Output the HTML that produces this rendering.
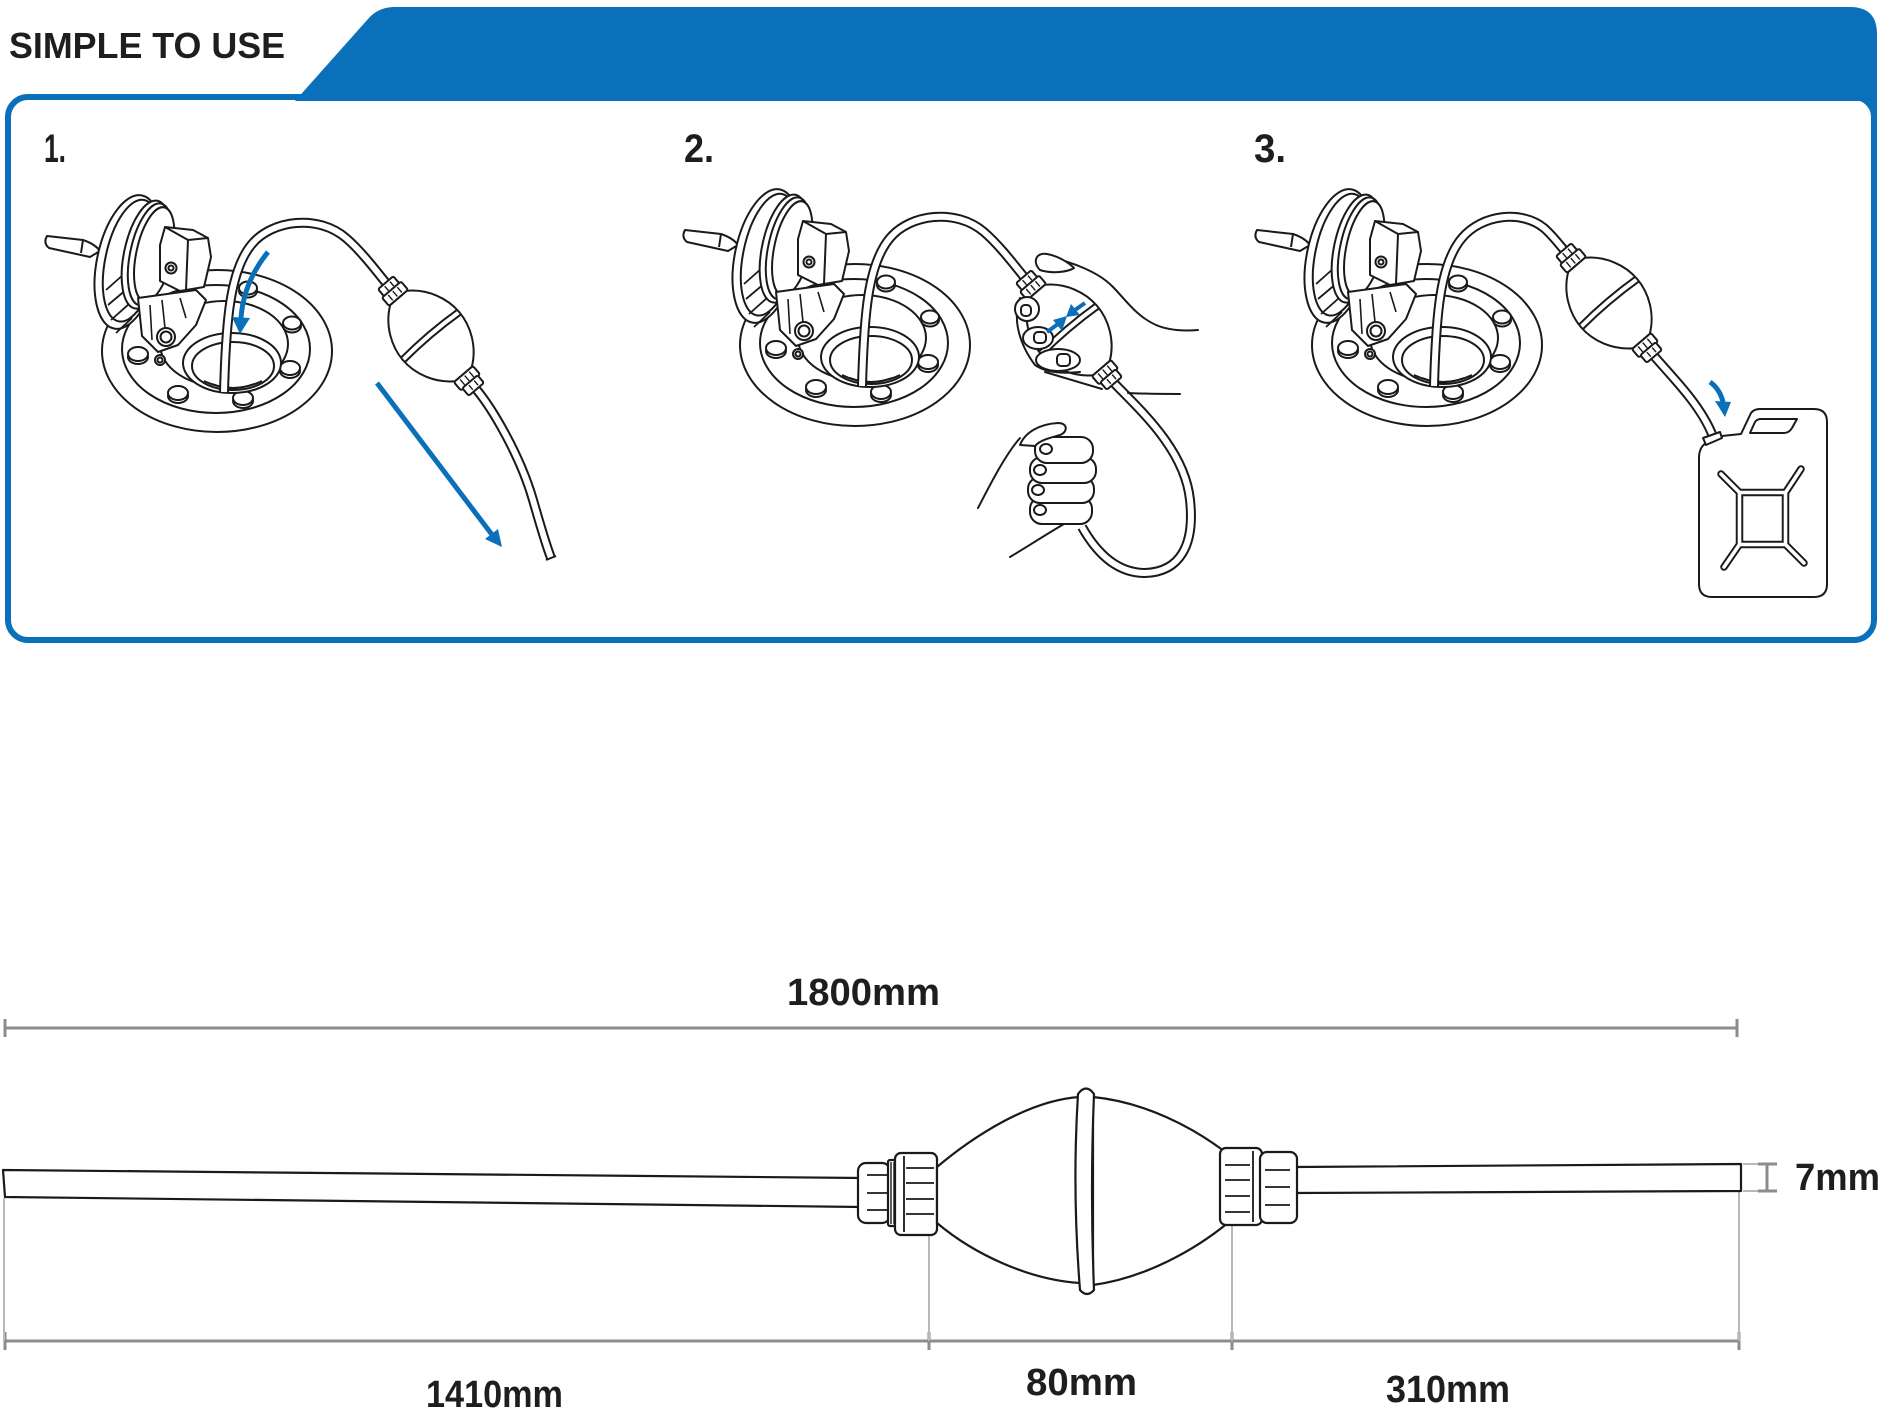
<!DOCTYPE html>
<html><head><meta charset="utf-8">
<style>
html,body{margin:0;padding:0;background:#fff;}
body{width:1882px;height:1415px;overflow:hidden;}
svg{display:block;}
text{font-family:"Liberation Sans",Arial,sans-serif;}
</style></head><body>
<svg width="1882" height="1415" viewBox="0 0 1882 1415" xmlns="http://www.w3.org/2000/svg">
<defs>
<g id="fc" stroke="#1a1a1a" stroke-width="2" fill="#fff" stroke-linejoin="round">
  <ellipse cx="217" cy="351" rx="115" ry="81"/>
  <ellipse cx="216" cy="349" rx="94" ry="64"/>
  <ellipse cx="224" cy="344" rx="64" ry="43"/>
  <ellipse cx="138" cy="357" rx="10" ry="7"/><ellipse cx="138" cy="354" rx="10" ry="7"/>
  <ellipse cx="178" cy="396" rx="10" ry="7"/><ellipse cx="178" cy="393" rx="10" ry="7"/>
  <ellipse cx="243" cy="401" rx="10" ry="7"/><ellipse cx="243" cy="398" rx="10" ry="7"/>
  <ellipse cx="290" cy="371" rx="10" ry="7"/><ellipse cx="290" cy="368" rx="10" ry="7"/>
  <ellipse cx="292" cy="326" rx="9" ry="6.5"/><ellipse cx="292" cy="323" rx="9" ry="6.5"/>
  <ellipse cx="248" cy="291" rx="9" ry="6.5"/><ellipse cx="248" cy="288" rx="9" ry="6.5"/>
  <ellipse cx="232" cy="363" rx="49" ry="30"/>
  <ellipse cx="233" cy="366" rx="41" ry="24"/>
  <path d="M204,381 Q233,395 262,381" fill="none"/>
  <path d="M212,384 Q233,392 254,384" fill="none"/>
  <!-- key handle -->
  <path d="M47,236 L83,240 Q95,244 100,251 L90,257 L49,248 Q43,243 47,236 Z"/>
  <path d="M83,240 L81,253" fill="none"/>
  <!-- disc -->
  <g transform="rotate(12 128 262)">
    <ellipse cx="128" cy="262" rx="31" ry="68"/>
    <ellipse cx="131" cy="260" rx="26" ry="62"/>
  </g>
  <path d="M106,290 L124,274 M108,305 L127,289 M111,320 L129,304 M116,333 L132,318" fill="none" stroke-width="1.8"/>
  <g transform="rotate(12 148 255)">
    <ellipse cx="146" cy="255" rx="22" ry="55"/>
    <ellipse cx="150" cy="254" rx="20" ry="52" fill="none"/>
    <ellipse cx="154" cy="253" rx="18" ry="48"/>
  </g>
  <!-- mechanism -->
  <polygon points="138,298 196,290 206,300 196,325 178,345 158,352 142,336"/>
  <path d="M150,305 L152,340 M162,300 L165,328 M180,298 L186,318" fill="none" stroke-width="1.6"/>
  <circle cx="166" cy="337" r="9"/><circle cx="166" cy="337" r="5.5"/>
  <circle cx="160" cy="360" r="5"/><circle cx="160" cy="360" r="2.5"/>
  <!-- cap head -->
  <polygon points="160,245 165,227 193,230 208,238 211,257 204,287 180,291 160,281"/>
  <path d="M165,227 L188,240 L208,238 M188,240 L186,290" fill="none"/>
  <circle cx="171" cy="268" r="5.5"/><circle cx="171" cy="268" r="2.5"/>
</g>

<g id="ba" stroke="#1a1a1a" stroke-width="2" fill="#fff" stroke-linejoin="round">
  <rect x="-70" y="-10" width="10" height="20" rx="2"/>
  <rect x="-61" y="-12.5" width="11" height="25" rx="2"/>
  <path d="M-59,-6 L-52,-6 M-59,0 L-52,0 M-59,6 L-52,6 M-68,-4 L-62,-4 M-68,3 L-62,3" fill="none" stroke-width="1.4"/>
  <path d="M-50,-11 C-38,-28 -18,-37 0,-37 C18,-37 38,-28 50,-11 L50,11 C38,28 18,37 0,37 C-18,37 -38,28 -50,11 Z"/>
  <path d="M-3,-37 Q-6,0 -3,37 M3,-37 Q0,0 3,37" fill="none"/>
  <rect x="50" y="-12.5" width="11" height="25" rx="2"/>
  <rect x="60" y="-10" width="10" height="20" rx="2"/>
  <path d="M52,-6 L59,-6 M52,0 L59,0 M52,6 L59,6 M62,-4 L68,-4 M62,3 L68,3" fill="none" stroke-width="1.4"/>
</g>
</defs>

<!-- Header -->
<path d="M295,101 L368,19 Q378,7 395,7 L1850,7 Q1877,7 1877,34 L1877,101 Z" fill="#0a70b9"/>
<rect x="8" y="97" width="1866" height="543" rx="20" fill="none" stroke="#0a70b9" stroke-width="6"/>
<rect x="1871" y="90" width="6" height="40" fill="#0a70b9"/>
<text x="9" y="58" font-size="36" font-weight="bold" fill="#1e1e1e" textLength="276" lengthAdjust="spacingAndGlyphs">SIMPLE TO USE</text>

<text x="44" y="162" font-size="40" font-weight="bold" fill="#1e1e1e" textLength="22" lengthAdjust="spacingAndGlyphs">1.</text>
<text x="684" y="162" font-size="40" font-weight="bold" fill="#1e1e1e" textLength="30" lengthAdjust="spacingAndGlyphs">2.</text>
<text x="1254" y="162" font-size="40" font-weight="bold" fill="#1e1e1e" textLength="32" lengthAdjust="spacingAndGlyphs">3.</text>

<!-- Scene 1 -->
<use href="#fc"/>
<g fill="none" stroke-linecap="butt">
  <path d="M224,392 C226,320 230,270 252,244 C272,220 318,214 346,238 C360,250 374,268 386,283" stroke="#1a1a1a" stroke-width="10"/>
  <path d="M224,392 C226,320 230,270 252,244 C272,220 318,214 346,238 C360,250 374,268 386,283" stroke="#fff" stroke-width="6"/>
  <path d="M476,389 C492,408 520,455 533,500 C541,528 546,545 551,558" stroke="#1a1a1a" stroke-width="10"/>
  <path d="M476,389 C492,408 520,455 533,500 C541,528 546,545 551,558" stroke="#fff" stroke-width="6"/>
  <path d="M546,560 L556,556" stroke="#1a1a1a" stroke-width="2"/>
</g>
<use href="#ba" transform="translate(431,336) rotate(49.6)"/>
<g fill="#0a70b9">
  <path d="M268,252 C255,268 243,290 241,318" fill="none" stroke="#0a70b9" stroke-width="5"/>
  <polygon points="232,317 250,318 240,334"/>
  <line x1="377" y1="383" x2="493" y2="536" stroke="#0a70b9" stroke-width="5"/>
  <polygon points="485,539 498,529 502,547"/>
</g>

<!-- Scene 2 -->
<use href="#fc" transform="translate(638,-6)"/>
<g fill="none" transform="translate(638,-6)">
  <path d="M224,392 C226,320 230,270 252,244 C272,220 318,214 346,238 C360,250 374,268 386,283" stroke="#1a1a1a" stroke-width="10"/>
  <path d="M224,392 C226,320 230,270 252,244 C272,220 318,214 346,238 C360,250 374,268 386,283" stroke="#fff" stroke-width="6"/>
</g>
<g fill="none">
  <path d="M1114,383 C1140,410 1185,450 1190,500 C1195,545 1180,572 1145,573 C1115,573 1095,550 1082,527" stroke="#1a1a1a" stroke-width="10"/>
  <path d="M1114,383 C1140,410 1185,450 1190,500 C1195,545 1180,572 1145,573 C1115,573 1095,550 1082,527" stroke="#fff" stroke-width="6"/>
</g>
<use href="#ba" transform="translate(1069,330) rotate(49.6)"/>
<g stroke="#1a1a1a" stroke-width="2" fill="#fff" stroke-linejoin="round" stroke-linecap="round">
  <!-- upper hand -->
  <path d="M1052,258 C1072,262 1098,272 1112,286 C1126,300 1136,316 1156,325 C1170,331 1186,331 1198,330" fill="none"/>
  <path d="M1040,270 C1032,262 1036,252 1047,254 C1058,256 1068,262 1074,268 C1068,272 1052,274 1040,270 Z"/>
  <path d="M1020,298 C1012,320 1020,345 1035,365 C1045,372 1060,374 1080,372" fill="none"/>
  <ellipse cx="1027" cy="309" rx="12" ry="12"/>
  <rect x="1021" y="305" width="10" height="11" rx="4"/>
  <ellipse cx="1038" cy="338" rx="15" ry="11"/>
  <rect x="1034" y="332" width="12" height="11" rx="4"/>
  <ellipse cx="1058" cy="360" rx="22" ry="11"/>
  <rect x="1057" y="354" width="13" height="12" rx="4"/>
  <path d="M1045,372 C1065,378 1088,385 1102,389" fill="none"/>
  <path d="M1128,393 C1150,394 1168,394 1180,394" fill="none"/>
  <!-- lower fist -->
  <path d="M978,508 C990,485 1005,455 1020,438" fill="none"/>
  <path d="M1010,557 C1030,545 1050,532 1064,524" fill="none"/>
  <rect x="1030" y="497" width="62" height="27" rx="12"/>
  <rect x="1028" y="477" width="66" height="26" rx="12"/>
  <rect x="1030" y="457" width="66" height="26" rx="12"/>
  <rect x="1035" y="437" width="58" height="26" rx="12"/>
  <ellipse cx="1040" cy="510" rx="6" ry="5"/>
  <ellipse cx="1038" cy="490" rx="6" ry="5"/>
  <ellipse cx="1040" cy="470" rx="6" ry="5"/>
  <ellipse cx="1046" cy="449" rx="6" ry="5"/>
  <path d="M1020,445 C1025,432 1040,424 1058,423 C1068,423 1068,432 1060,435 C1050,438 1040,440 1035,446 Z"/>
</g>
<g fill="#0a70b9">
  <line x1="1047" y1="332" x2="1058" y2="324" stroke="#0a70b9" stroke-width="4"/>
  <polygon points="1053,320 1062,331 1067,316"/>
  <line x1="1085" y1="303" x2="1075" y2="310" stroke="#0a70b9" stroke-width="4"/>
  <polygon points="1071,304 1080,315 1066,317"/>
</g>

<!-- Scene 3 -->
<use href="#fc" transform="translate(1210,-6)"/>
<g fill="none">
  <path d="M1434,386 C1436,314 1440,264 1462,238 C1482,214 1522,210 1544,228 C1552,235 1558,243 1564,250" stroke="#1a1a1a" stroke-width="10"/>
  <path d="M1434,386 C1436,314 1440,264 1462,238 C1482,214 1522,210 1544,228 C1552,235 1558,243 1564,250" stroke="#fff" stroke-width="6"/>
  <path d="M1654,356 C1675,380 1700,405 1712,434" stroke="#1a1a1a" stroke-width="10"/>
  <path d="M1654,356 C1675,380 1700,405 1712,434" stroke="#fff" stroke-width="6"/>
</g>
<use href="#ba" transform="translate(1609,303) rotate(49.6)"/>
<!-- jerry can -->
<g stroke="#1a1a1a" stroke-width="2" fill="#fff" stroke-linejoin="round">
  <path d="M1699,458 Q1699,446 1708,442 L1722,436 L1741,434 L1751,413 Q1754,409 1760,409 L1814,409 Q1827,409 1827,422 L1827,584 Q1827,597 1814,597 L1712,597 Q1699,597 1699,584 Z"/>
  <path d="M1750,433 L1755,422 Q1757,419 1761,419 L1797,419 L1792,428 Q1789,433 1784,433 Z"/>
  <polygon points="1703,438 1720,432 1722,438 1706,445"/>
  <path d="M1721,474 L1739.5,492.5 L1785.5,492.5 L1801,469 M1785.5,492.5 L1785.5,544.5 L1804,563 M1785.5,544.5 L1739.5,544.5 L1724,567 M1739.5,544.5 L1739.5,492.5" fill="none" stroke-width="7.5" stroke-linecap="round"/>
  <path d="M1721,474 L1739.5,492.5 L1785.5,492.5 L1801,469 M1785.5,492.5 L1785.5,544.5 L1804,563 M1785.5,544.5 L1739.5,544.5 L1724,567 M1739.5,544.5 L1739.5,492.5" fill="none" stroke="#fff" stroke-width="3.6" stroke-linecap="round"/>
</g>
<g fill="#0a70b9">
  <path d="M1710,382 C1717,387 1721,394 1723,402" fill="none" stroke="#0a70b9" stroke-width="5"/>
  <polygon points="1715,401 1731,402 1725,417"/>
</g>

<!-- Dimension drawing -->
<g stroke="#8c8c8c" stroke-width="3" fill="none">
  <line x1="5" y1="1028" x2="1737" y2="1028"/>
  <line x1="5" y1="1019" x2="5" y2="1037"/>
  <line x1="1737" y1="1019" x2="1737" y2="1037"/>
  <line x1="5" y1="1341" x2="1739" y2="1341"/>
  <line x1="5" y1="1332" x2="5" y2="1350"/>
  <line x1="929" y1="1332" x2="929" y2="1350"/>
  <line x1="1232" y1="1332" x2="1232" y2="1350"/>
  <line x1="1739" y1="1332" x2="1739" y2="1350"/>
  <line x1="1767" y1="1164" x2="1767" y2="1191"/>
  <line x1="1758" y1="1164" x2="1777" y2="1164"/>
  <line x1="1758" y1="1191" x2="1777" y2="1191"/>
</g>
<g stroke="#b8b8b8" stroke-width="2" fill="none">
  <line x1="4" y1="1198" x2="4" y2="1341"/>
  <line x1="929" y1="1226" x2="929" y2="1341"/>
  <line x1="1232" y1="1223" x2="1232" y2="1341"/>
  <line x1="1739" y1="1192" x2="1739" y2="1341"/>
  <line x1="1743" y1="1164" x2="1758" y2="1164"/>
  <line x1="1743" y1="1191" x2="1758" y2="1191"/>
</g>
<g stroke="#1a1a1a" stroke-width="2.2" fill="#fff" stroke-linejoin="round">
  <polygon points="3,1170 862,1178 862,1207 5,1197"/>
  <polygon points="1295,1167 1741,1164 1741,1191 1295,1193"/>
  <rect x="858" y="1163" width="32" height="60" rx="8"/>
  <path d="M867,1175 L888,1175 M867,1193 L888,1193 M867,1210 L888,1210" fill="none" stroke-width="1.8"/>
  <rect x="888" y="1160" width="9" height="66" rx="2"/>
  <path d="M891,1162 L891,1224 M894,1162 L894,1224" fill="none" stroke-width="1.4"/>
  <rect x="895" y="1153" width="42" height="82" rx="6"/>
  <path d="M904,1156 L904,1232 M906,1168 L934,1168 M906,1183 L934,1183 M906,1199 L934,1199 M906,1214 L934,1214" fill="none" stroke-width="1.8"/>
  <path d="M937,1167 C975,1135 1030,1100 1080,1097 L1080,1283 C1030,1280 975,1255 937,1223 Z"/>
  <path d="M1093,1097 C1145,1102 1195,1128 1229,1155 L1229,1222 C1195,1250 1145,1278 1093,1285 Z"/>
  <path d="M1078,1094 Q1072,1190 1080,1290 Q1087,1298 1094,1290 Q1090,1190 1094,1094 Q1086,1083 1078,1094 Z"/>
  <rect x="1220" y="1148" width="42" height="77" rx="6"/>
  <path d="M1253,1151 L1253,1222 M1225,1165 L1250,1165 M1225,1180 L1250,1180 M1225,1196 L1250,1196 M1225,1212 L1250,1212" fill="none" stroke-width="1.8"/>
  <rect x="1260" y="1152" width="37" height="71" rx="7"/>
  <path d="M1265,1170 L1290,1170 M1265,1187 L1290,1187 M1265,1205 L1290,1205" fill="none" stroke-width="1.8"/>
</g>

<g font-size="38" font-weight="bold" fill="#1e1e1e">
  <text x="787" y="1005" textLength="153" lengthAdjust="spacingAndGlyphs">1800mm</text>
  <text x="426" y="1407" textLength="137" lengthAdjust="spacingAndGlyphs">1410mm</text>
  <text x="1026" y="1395" textLength="111" lengthAdjust="spacingAndGlyphs">80mm</text>
  <text x="1386" y="1402" textLength="124" lengthAdjust="spacingAndGlyphs">310mm</text>
  <text x="1795" y="1190" textLength="85" lengthAdjust="spacingAndGlyphs">7mm</text>
</g>
</svg>
</body></html>
